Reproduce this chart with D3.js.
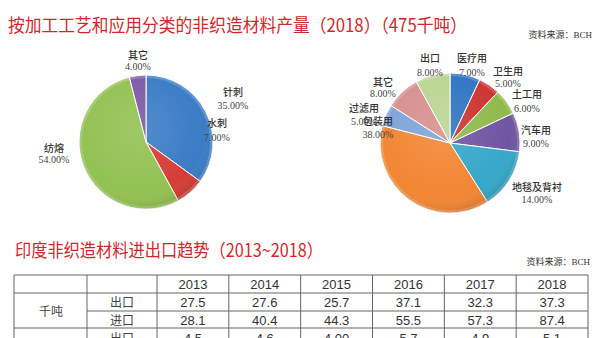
<!DOCTYPE html>
<html><head><meta charset="utf-8">
<script src="https://cdn.jsdelivr.net/npm/d3@7"></script>
<style>
html,body{margin:0;padding:0;background:#fff;}
svg{display:block;}
</style></head>
<body>
<svg id="c" width="600" height="338"></svg>
<script>
// ---- data ----
const title1 = "按加工工艺和应用分类的非织造材料产量（2018）（475千吨）";
const title2 = "印度非织造材料进出口趋势（2013~2018）";
const sourceText = "资料来源：BCH";

const pie1Labels = ["针刺", "水刺", "纺熔", "其它"];
const pie1Values = [35, 7, 54, 4];

const pie2Labels = ["医疗用", "卫生用", "土工用", "汽车用", "地毯及背衬", "包装用", "过滤用", "其它", "出口"];
const pie2Values = [7, 5, 6, 9, 14, 38, 5, 8, 8];

const years = ["2013", "2014", "2015", "2016", "2017", "2018"];
const unitLabel = "千吨";
const rowLabels = ["出口", "进口", "出口"];
const exportKt = ["27.5", "27.6", "25.7", "37.1", "32.3", "37.3"];
const importKt = ["28.1", "40.4", "44.3", "55.5", "57.3", "87.4"];
const exportRow3 = ["4.5", "4.6", "4.00", "5.7", "4.9", "5.1"];

// ---- styles / layout ----
const pie1Colors = ["#3b7cc6", "#d63d37", "#93c152", "#7b5aa6"];
const pie2Colors = ["#2f74c1", "#cc3430", "#8fba4c", "#7055a2", "#37a7c9", "#f28633", "#7ea4d8", "#d78f8f", "#bad593"];
// label anchor offsets from pie centre: [dx, dy name, dy percent]
const pie1LabelPos = [[87, -50, -37], [71, -19, -5], [-92, 6, 17], [-8, -87, -76]];
const pie2LabelPos = [[22, -85, -71], [58, -72, -60], [77, -49, -35], [86, -13, 0], [87, 44, 56],
                      [-72, -22, -9], [-86, -35, -22], [-67, -61, -50], [-20, -85, -71]];

const svg = d3.select("#c");
const red = "#d2262d";

svg.append("text").attr("x", 8).attr("y", 32).attr("fill", red)
  .attr("font-family", "'Noto Sans CJK SC', sans-serif").attr("font-size", 18)
  .attr("textLength", 459).attr("lengthAdjust", "spacingAndGlyphs").text(title1);
svg.append("text").attr("x", 592).attr("y", 38).attr("text-anchor", "end").attr("fill", "#333")
  .attr("font-family", "'Liberation Serif', 'Noto Sans CJK SC', serif").attr("font-size", 9).text(sourceText);

const defs = svg.append("defs");
const g1 = defs.append("radialGradient").attr("id", "shade").attr("cx", "45%").attr("cy", "40%").attr("r", "60%");
g1.append("stop").attr("offset", "0%").attr("stop-color", "#fff").attr("stop-opacity", 0.12);
g1.append("stop").attr("offset", "80%").attr("stop-color", "#fff").attr("stop-opacity", 0);
g1.append("stop").attr("offset", "100%").attr("stop-color", "#000").attr("stop-opacity", 0.12);

function drawPie(cx, cy, r, labels, values, colors, labelPos) {
  const pie = d3.pie().sort(null).value(d => d)(values);
  const arc = d3.arc().innerRadius(0).outerRadius(r);
  const g = svg.append("g").attr("transform", `translate(${cx},${cy})`);
  g.selectAll("path.s").data(pie).join("path").attr("class", "s")
    .attr("d", arc).attr("fill", (d, i) => colors[i])
    .attr("stroke", "#fff").attr("stroke-width", 1);
  g.append("circle").attr("r", r).attr("fill", "url(#shade)");
  g.selectAll("path.e").data(pie).join("path").attr("class", "e")
    .attr("d", d3.arc().innerRadius(r - 3).outerRadius(r)).attr("fill", "#fff").attr("opacity", 0.18);
  const lg = g.selectAll("g.l").data(pie).join("g").attr("class", "l");
  lg.append("text").attr("x", (d, i) => labelPos[i][0]).attr("y", (d, i) => labelPos[i][1] + 4)
    .attr("text-anchor", "middle").attr("fill", "#333").attr("font-weight", 500)
    .attr("font-family", "'Noto Sans CJK SC', sans-serif").attr("font-size", 10)
    .text((d, i) => labels[i]);
  lg.append("text").attr("x", (d, i) => labelPos[i][0]).attr("y", (d, i) => labelPos[i][2] + 4)
    .attr("text-anchor", "middle").attr("fill", "#444")
    .attr("font-family", "'Liberation Serif', serif").attr("font-size", 10)
    .text(d => d3.format(".2f")(d.data) + "%");
}
drawPie(146, 142, 67, pie1Labels, pie1Values, pie1Colors, pie1LabelPos);
drawPie(450, 143, 70, pie2Labels, pie2Values, pie2Colors, pie2LabelPos);

// ---- second title ----
svg.append("text").attr("x", 15).attr("y", 257).attr("fill", red)
  .attr("font-family", "'Noto Sans CJK SC', sans-serif").attr("font-size", 18)
  .attr("textLength", 308).attr("lengthAdjust", "spacingAndGlyphs").text(title2);
svg.append("text").attr("x", 590).attr("y", 265).attr("text-anchor", "end").attr("fill", "#333")
  .attr("font-family", "'Liberation Serif', 'Noto Sans CJK SC', serif").attr("font-size", 9).text(sourceText);

// ---- table ----
const colX = d3.scaleBand().domain(years).range([157, 588]);
const tg = svg.append("g");
const lineC = "#666";
const font = "'Liberation Sans', Arial, sans-serif";
// horizontal lines
[275, 293, 328].forEach(y => tg.append("line").attr("x1", 14).attr("x2", 588).attr("y1", y).attr("y2", y).attr("stroke", lineC));
tg.append("line").attr("x1", 87).attr("x2", 588).attr("y1", 311).attr("y2", 311).attr("stroke", lineC);
// vertical lines
[14, 87].concat(years.map(y => colX(y)), [588]).forEach(x =>
  tg.append("line").attr("x1", x).attr("x2", x).attr("y1", 275).attr("y2", 346).attr("stroke", lineC));
// header
tg.selectAll("text.h").data(years).join("text").attr("class", "h")
  .attr("x", d => colX(d) + colX.bandwidth() / 2).attr("y", 289).attr("text-anchor", "middle")
  .attr("fill", "#333").attr("font-family", font).attr("font-size", 13).text(d => d);
tg.append("text").attr("x", 51).attr("y", 316).attr("text-anchor", "middle").attr("fill", "#444")
  .attr("font-family", "'Noto Sans CJK SC', sans-serif").attr("font-size", 12).text(unitLabel);
const rows = [exportKt, importKt, exportRow3];
const rowCenters = [302, 320, 338];
rows.forEach((vals, r) => {
  tg.append("text").attr("x", 122).attr("y", rowCenters[r] + 5).attr("text-anchor", "middle")
    .attr("fill", "#444").attr("font-family", "'Noto Sans CJK SC', sans-serif").attr("font-size", 12).text(rowLabels[r]);
  tg.selectAll(null).data(vals).join("text")
    .attr("x", (d, i) => colX(years[i]) + colX.bandwidth() / 2).attr("y", rowCenters[r] + 5)
    .attr("text-anchor", "middle").attr("fill", "#333").attr("font-family", font).attr("font-size", 13).text(d => d);
});
</script>
</body></html>
